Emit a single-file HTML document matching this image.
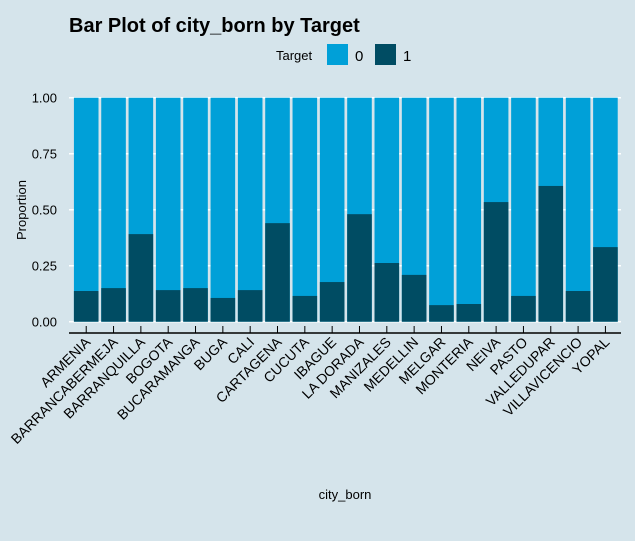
<!DOCTYPE html>
<html><head><meta charset="utf-8"><style>
body{margin:0;background:#d5e4eb;}
svg{display:block;font-family:"Liberation Sans",Arial,sans-serif;}
</style></head><body>
<svg id="chart" width="635" height="541" viewBox="0 0 635 541">
<rect width="635" height="541" fill="#d5e4eb"/>
<text x="69" y="32" font-size="20" font-weight="bold" fill="#000">Bar Plot of city_born by Target</text>
<g>
<text x="276" y="60" font-size="13" fill="#000">Target</text>
<rect x="327" y="44" width="21" height="21" fill="#00a0d8"/>
<text x="355" y="61" font-size="15">0</text>
<rect x="375" y="44" width="21" height="21" fill="#004c63"/>
<text x="403" y="61" font-size="15">1</text>
</g>
<g id="grid"></g><g id="bars"></g><g id="axes"></g>
<text x="345" y="499" font-size="13" text-anchor="middle">city_born</text>
<text transform="translate(26,210) rotate(-90)" font-size="13" text-anchor="middle">Proportion</text>
</svg>
<script>
const categories=["ARMENIA","BARRANCABERMEJA","BARRANQUILLA","BOGOTA","BUCARAMANGA","BUGA","CALI","CARTAGENA","CUCUTA","IBAGUE","LA DORADA","MANIZALES","MEDELLIN","MELGAR","MONTERIA","NEIVA","PASTO","VALLEDUPAR","VILLAVICENCIO","YOPAL"];
const target1=[0.137,0.150,0.391,0.141,0.150,0.106,0.141,0.440,0.115,0.177,0.480,0.262,0.209,0.074,0.079,0.534,0.115,0.606,0.137,0.333];
const yTicks=[0,0.25,0.5,0.75,1];
const yTickLabels=["0.00","0.25","0.50","0.75","1.00"];
const NS="http://www.w3.org/2000/svg";
const x0=69,x1=621,y0=321.7,y1=97.7;
const step=(x1-x0)/(categories.length+0.2);
function X(i){return x0+step*(0.63+i);}
function Y(v){return y0+(y1-y0)*v;}
function mk(tag,attrs,parent){const e=document.createElementNS(NS,tag);for(const k in attrs)e.setAttribute(k,attrs[k]);document.getElementById(parent).appendChild(e);return e;}
yTicks.forEach((t,i)=>{
 const g=mk('line',{x1:x0,x2:x1,y1:Y(t),y2:Y(t),stroke:'#fff','stroke-width':1.5},'grid');
 
 
 const l=mk('text',{x:57,y:Y(t)+5,'font-size':13,'text-anchor':'end'},'axes');
 l.textContent=yTickLabels[i];
 
 
});
const bw=step*0.9;
categories.forEach((c,i)=>{
 const cx=X(i);
 const a=mk('rect',{x:cx-bw/2,y:Y(1),width:bw,height:Y(0)-Y(1),fill:'#00a0d8'},'bars');
 
 
 const b=mk('rect',{x:cx-bw/2,y:Y(target1[i]),width:bw,height:Y(0)-Y(target1[i]),fill:'#004c63'},'bars');
 
 
 const t=mk('line',{x1:cx,x2:cx,y1:326,y2:333,stroke:'#000','stroke-width':1},'axes');
 
 
 const l=mk('text',{x:cx+5,y:343,'font-size':14,'text-anchor':'end',transform:`rotate(-45 ${cx+5} 343)`},'axes');
 l.textContent=c;
 
 
});
const ax=mk('line',{x1:x0,x2:x1,y1:333,y2:333,stroke:'#000','stroke-width':1.5},'axes');


</script>
</body></html>
